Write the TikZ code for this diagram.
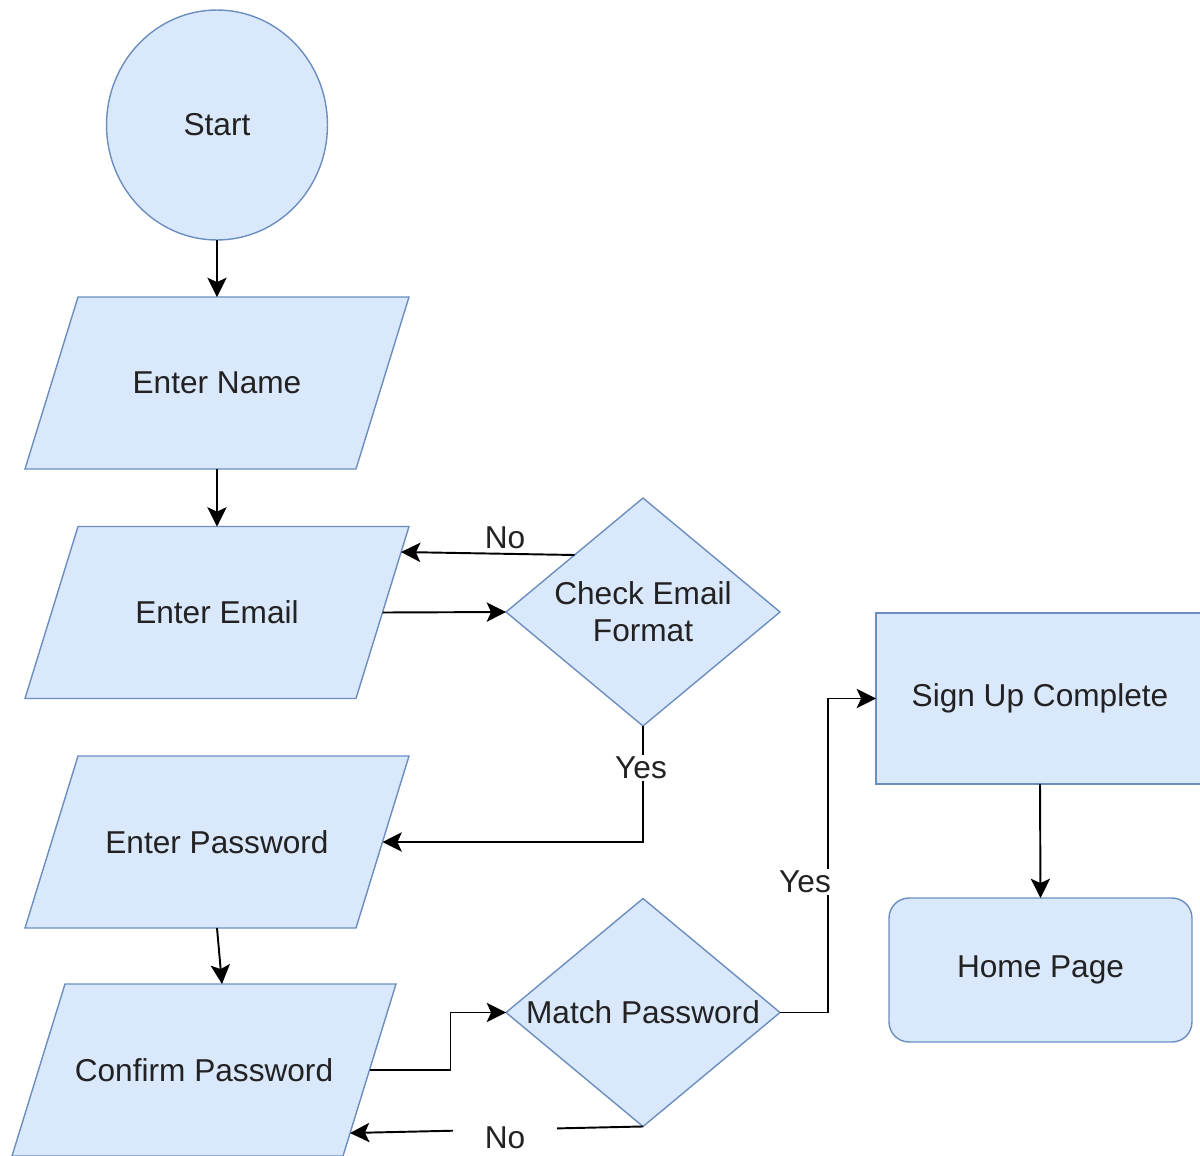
\documentclass[tikz,border=0pt]{standalone}
\usepackage{fontspec}
\setmainfont{Liberation Sans}
\usetikzlibrary{shapes.geometric,arrows.meta,calc}
\definecolor{boxfill}{HTML}{DAE8FC}
\definecolor{boxline}{HTML}{6C8EBF}
\definecolor{txt}{HTML}{222222}
% parallelogram: name, x, y, text
\newcommand\ioshape[4]{%
  \filldraw[shapeline] ($(#2,#3)+(-192,86)$) -- ($(#2,#3)+(-139,-86)$) -- ($(#2,#3)+(192,-86)$) -- ($(#2,#3)+(139,86)$) -- cycle;
  \node[areanode, minimum width=7.68cm, minimum height=3.44cm] (#1) at (#2,#3) {#4};
  \coordinate (#1E) at ($(#2,#3)+(165.5,0)$);}
% diamond: name, x, y, text
\newcommand\decshape[4]{%
  \filldraw[shapeline] ($(#2,#3)+(0,-114)$) -- ($(#2,#3)+(137,0)$) -- ($(#2,#3)+(0,114)$) -- ($(#2,#3)+(-137,0)$) -- cycle;
  \node[areanode, minimum width=5.48cm, minimum height=4.56cm] (#1) at (#2,#3) {#4};
  \coordinate (#1NW) at ($(#2,#3)+(-68.5,-57)$);}
\begin{document}
\begin{tikzpicture}[x=0.02cm,y=-0.02cm,
  font=\fontsize{18}{21}\selectfont, text=txt,
  shapeline/.style={draw=boxline, fill=boxfill, line width=0.8pt},
  areanode/.style={rectangle, outer sep=0pt, inner sep=0pt, align=center},
  shapebase/.style={shapeline, outer sep=0pt, inner sep=2pt, align=center},
  startnode/.style={shapebase, ellipse, minimum width=4.42cm, minimum height=4.6cm},
  procbox/.style={shapebase, rectangle, minimum width=6.56cm, minimum height=3.42cm},
  endbox/.style={shapebase, rectangle, rounded corners=0.4cm, minimum width=6.06cm, minimum height=2.88cm},
  conn/.style={line width=1.1pt, draw=black, -{Stealth[length=11pt,width=11pt,inset=2.5pt]}},
  lbl/.style={fill=white, inner sep=1pt, text=txt}]
\clip (0,0) rectangle (1200,1156);
\useasboundingbox (0,0) rectangle (1200,1156);
\node[startnode] (start) at (217,125) {Start};
\ioshape{name}{217}{383}{Enter Name}
\ioshape{email}{217}{612.5}{Enter Email}
\ioshape{pw}{217}{842}{Enter Password}
\ioshape{confirm}{204}{1070}{Confirm Password}
\decshape{check}{643}{612}{\fontsize{18}{24.5}\selectfont Check Email\\Format}
\decshape{match}{643}{1012.5}{Match Password}
\node[procbox] (signup) at (1040,698.5) {Sign Up Complete};
\node[endbox] (home) at (1040.5,970) {Home Page};

\coordinate (noA) at ($(email)+(184,-60.5)$);
\coordinate (noB) at ($(confirm)+(146,63)$);
\coordinate (cin) at ($(confirm.north)+(18,0)$);

\draw[conn] (start.south) -- (name.north);
\draw[conn] (name.south) -- (email.north);
\draw[conn] (emailE) -- (check.west);
\draw[conn] (checkNW) -- (noA);
\node[lbl] (nolbl1) at (505,538) {No};
\draw[conn] (check.south) |- (pwE);
\node[lbl] (yeslbl1) at (641,768) {Yes};
\draw[conn] (pw.south) -- (cin);
\draw[conn] (confirmE) -- ++(81,0) |- (match.west);
\draw[conn] (match.south) -- (noB);
\node[lbl, inner xsep=18pt] (nolbl2) at (505,1138) {No};
\draw[conn] (match.east) -- ++(48,0) |- (signup.west);
\node[lbl] (yeslbl2) at (805,882) {Yes};
\draw[conn] (signup.south) -- (home.north);
\end{tikzpicture}
\end{document}
